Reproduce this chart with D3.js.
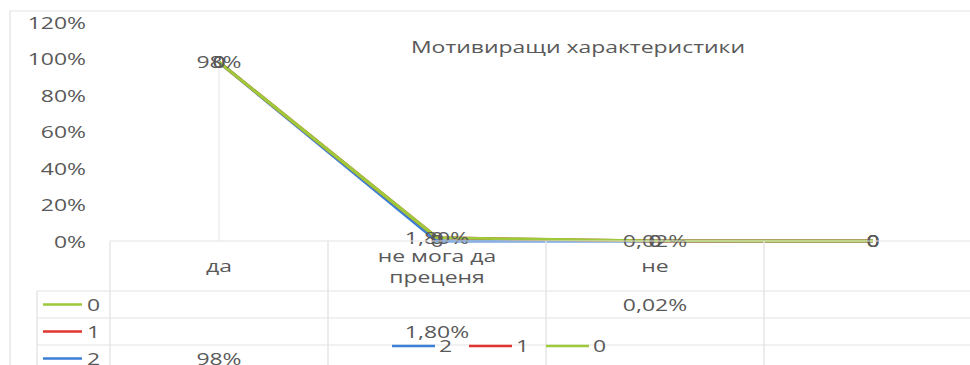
<!DOCTYPE html>
<html>
<head>
<meta charset="utf-8">
<script src="https://cdn.jsdelivr.net/npm/d3@7"></script>
<style>
  html, body { margin: 0; padding: 0; background: #fff; }
  svg { display: block; }
  text { font-family: "Open Sans", sans-serif; font-size: 17px; fill: #595959; }
</style>
</head>
<body>
<svg id="chart"></svg>
<script>
// Survey answers and the three series shown in the chart
const categories = ["да", "не мога да преценя", "не", ""];
const seriesKeys = ["0", "1", "2"];
const series0 = [null, null, 0.0002, null];
const series1 = [null, 0.018, null, null];
const series2 = [0.98, null, null, null];
const yTicks = [0, 0.2, 0.4, 0.6, 0.8, 1.0, 1.2];
const title = "Мотивиращи характеристики";

const colors = { "0": "#9dc93b", "1": "#e0342f", "2": "#3b7fd6" };
const seriesValues = { "0": series0, "1": series1, "2": series2 };

// The chart is laid out in a narrower space and stretched to the full width
const S = 1.35;
const WIDTH = 970, HEIGHT = 365;
const W = WIDTH / S;
const px = v => v / S;

const svg = d3.select("#chart")
  .attr("width", WIDTH).attr("height", HEIGHT)
  .attr("viewBox", `0 0 ${W} ${HEIGHT}`)
  .attr("preserveAspectRatio", "none");

// value formatting with a comma as decimal separator
function fmt(v) {
  if (v === null || v === undefined) return "";
  if (v === 0) return "0";
  const p = v * 100;
  if (Math.abs(p - Math.round(p)) < 1e-9) return Math.round(p) + "%";
  return p.toFixed(2).replace(".", ",") + "%";
}

// chart area border
svg.append("path")
  .attr("d", `M${px(10)},${HEIGHT + 2} V11 H${W + 2}`)
  .attr("fill", "none").attr("stroke", "#e3e3e3").attr("stroke-width", 1);

const tableTop = 241, catBottom = 291, rowH = 27;
const x = d3.scaleBand().domain(d3.range(categories.length)).range([px(110), px(982)]);
const y = d3.scaleLinear().domain([0, 1.2]).range([tableTop, 22]);
const cx = i => x(i) + x.bandwidth() / 2;

// stacked layout: series "2" at the bottom, then "1", then "0"
const rows = categories.map((c, i) => {
  const r = { i };
  seriesKeys.forEach(k => r[k] = seriesValues[k][i] ?? 0);
  return r;
});
const stacked = d3.stack().keys(["2", "1", "0"])(rows);
const topValues = rows.map((r, i) => d3.max(stacked, s => s[i][1]));

// drop lines
svg.append("g").selectAll("line").data(rows).join("line")
  .attr("x1", d => cx(d.i)).attr("x2", d => cx(d.i))
  .attr("y1", d => y(topValues[d.i])).attr("y2", y(0))
  .attr("stroke", "#ececec").attr("stroke-width", 1);

// y axis labels
const yAxis = svg.append("g")
  .attr("transform", `translate(${px(86)},0)`)
  .call(d3.axisLeft(y).tickValues(yTicks).tickFormat(d3.format(".0%")).tickSize(0).tickPadding(0));
yAxis.select(".domain").remove();
yAxis.selectAll("text").attr("font-family", null).attr("font-size", null).attr("fill", null).attr("dy", "0.36em");

// series lines
const line = d3.line().x(d => cx(d.data.i)).y(d => y(d[1]));
svg.append("g").selectAll("path").data(stacked).join("path")
  .attr("d", d => line(d))
  .attr("fill", "none")
  .attr("stroke", d => colors[d.key])
  .attr("stroke-width", 2.8)
  .attr("stroke-linejoin", "round");

// data labels centred on each point
const labelG = svg.append("g");
stacked.forEach(s => {
  labelG.selectAll(null).data(s).join("text")
    .attr("x", d => cx(d.data.i)).attr("y", d => y(d[1]))
    .attr("dy", "0.36em").attr("text-anchor", "middle")
    .text(d => fmt(d.data[s.key]));
});

// data table
const table = svg.append("g").attr("stroke", "#e3e3e3").attr("stroke-width", 1).attr("fill", "none");
const tableBottom = HEIGHT + 5;
table.append("line").attr("x1", px(110)).attr("x2", W + 2).attr("y1", tableTop).attr("y2", tableTop);
seriesKeys.forEach((k, r) => {
  const yy = catBottom + r * rowH;
  table.append("line").attr("x1", px(37)).attr("x2", W + 2).attr("y1", yy).attr("y2", yy);
});
table.append("line").attr("x1", px(37)).attr("x2", px(37)).attr("y1", catBottom).attr("y2", tableBottom);
d3.range(categories.length + 1).forEach(i => {
  const xx = i < categories.length ? x(i) : x(categories.length - 1) + x.bandwidth();
  table.append("line").attr("x1", xx).attr("x2", xx).attr("y1", tableTop).attr("y2", tableBottom);
});

// category labels, wrapped to fit the column
const catG = svg.append("g");
categories.forEach((c, i) => {
  const t = catG.append("text").attr("text-anchor", "middle");
  const words = c.split(" ");
  const lines = [];
  let cur = [];
  const probe = catG.append("text");
  words.forEach(w => {
    const test = cur.concat(w).join(" ");
    probe.text(test);
    if (cur.length && probe.node().getComputedTextLength() > x.bandwidth() * 0.8) {
      lines.push(cur.join(" "));
      cur = [w];
    } else cur.push(w);
  });
  lines.push(cur.join(" "));
  probe.remove();
  const lh = 21;
  const mid = (tableTop + catBottom) / 2;
  lines.forEach((ln, j) => {
    t.append("tspan").attr("x", cx(i))
      .attr("y", mid + (j - (lines.length - 1) / 2) * lh)
      .attr("dy", "0.36em").text(ln);
  });
});

// table rows: legend key and values
seriesKeys.forEach((k, r) => {
  const yc = catBottom + r * rowH + rowH / 2;
  svg.append("line").attr("x1", px(43)).attr("x2", px(82)).attr("y1", yc).attr("y2", yc)
    .attr("stroke", colors[k]).attr("stroke-width", 2.5);
  svg.append("text").attr("x", px(87)).attr("y", yc).attr("dy", "0.36em").text(k);
  seriesValues[k].forEach((v, i) => {
    if (v === null) return;
    svg.append("text").attr("x", cx(i)).attr("y", yc).attr("dy", "0.36em")
      .attr("text-anchor", "middle").text(fmt(v));
  });
});

// bottom legend
const legendKeys = ["2", "1", "0"];
const legend = svg.append("g").attr("transform", `translate(${px(392)},346)`);
legendKeys.forEach((k, j) => {
  const g = legend.append("g").attr("transform", `translate(${j * px(77)},0)`);
  g.append("line").attr("x1", 0).attr("x2", px(43)).attr("stroke", colors[k]).attr("stroke-width", 2.5);
  g.append("text").attr("x", px(47)).attr("dy", "0.36em").text(k);
});

// title
svg.append("text").attr("x", px(578)).attr("y", 53).attr("text-anchor", "middle")
  .attr("fill", "#404040").text(title);
</script>
</body>
</html>
